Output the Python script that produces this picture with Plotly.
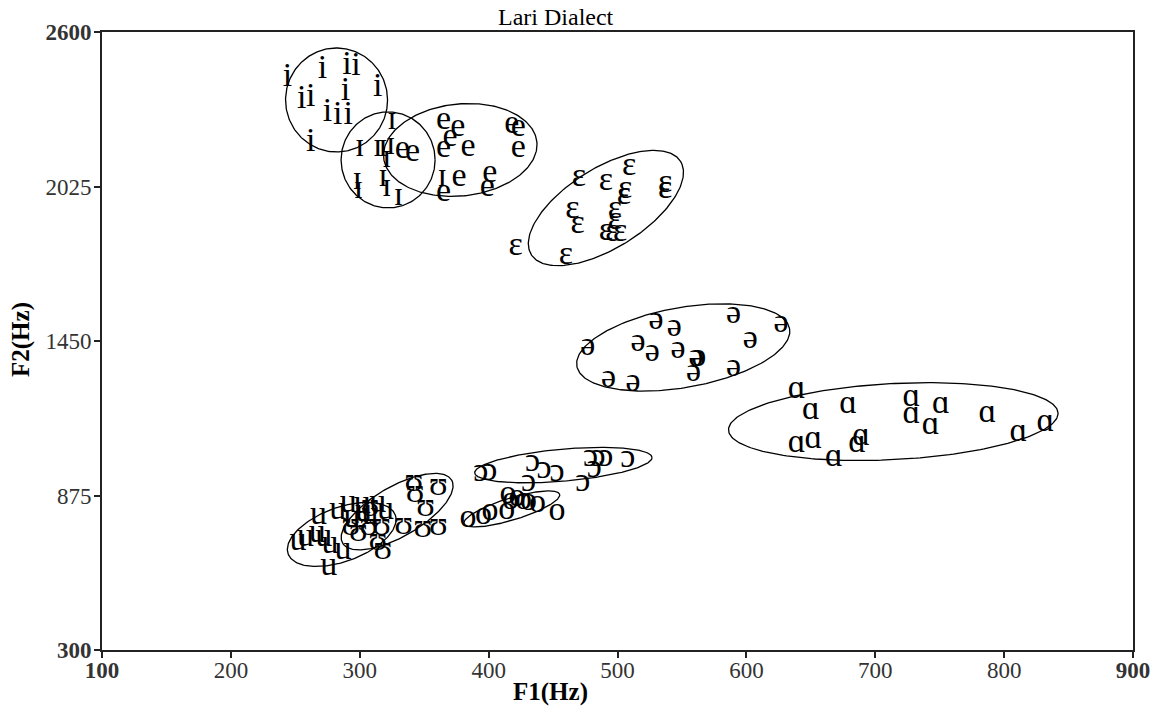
import numpy as np
import plotly.graph_objects as go

# ---------------- data (F1, F2 in Hz) ----------------
i_f1 = [244, 271, 290, 297, 314, 255, 262, 289, 275, 283, 291, 262]
i_f2 = [2432, 2459, 2477, 2470, 2395, 2347, 2358, 2377, 2299, 2291, 2291, 2187]

I_f1 = [300, 314, 318, 324, 325, 321, 298, 299, 318, 321, 330, 364]
I_f2 = [2172, 2172, 2172, 2179, 2272, 2131, 2049, 2012, 2060, 2023, 1986, 2060]

e_f1 = [365, 376, 370, 384, 365, 341, 333, 418, 423, 423, 377, 401, 399, 365]
e_f2 = [2272, 2243, 2209, 2172, 2168, 2153, 2161, 2254, 2243, 2168, 2060, 2075, 2023, 2001]

E_f1 = [470, 491, 509, 506, 505, 537, 537, 465, 469, 498, 498, 491, 496, 502, 421, 460]
E_f2 = [2060, 2042, 2098, 2012, 1993, 2038, 2012, 1938, 1882, 1938, 1900, 1856, 1852, 1852, 1800, 1770]

schwa_f1 = [477, 493, 512, 530, 544, 516, 527, 547, 561, 563, 559, 590, 603, 590, 627]
schwa_f2 = [1428, 1312, 1297, 1528, 1502, 1443, 1409, 1417, 1387, 1390, 1331, 1547, 1454, 1350, 1517]

a_f1 = [639, 650, 679, 728, 728, 751, 743, 787, 639, 652, 689, 686, 668, 811, 832]
a_f2 = [1268, 1193, 1212, 1238, 1175, 1212, 1137, 1182, 1067, 1082, 1093, 1067, 1015, 1108, 1145]

O_f1 = [394, 401, 434, 443, 453, 479, 485, 491, 508, 482, 473, 431]
O_f2 = [959, 966, 996, 970, 959, 1018, 1018, 1015, 1011, 977, 922, 925]

o_f1 = [384, 396, 401, 414, 417, 422, 427, 431, 438, 453, 415]
o_f2 = [791, 802, 814, 821, 858, 866, 858, 851, 847, 814, 877]

U_f1 = [342, 361, 343, 351, 334, 349, 361, 317, 293, 299, 307, 308, 314, 318]
U_f2 = [925, 907, 884, 832, 765, 754, 758, 758, 758, 739, 758, 832, 702, 672]

u_f1 = [268, 283, 291, 302, 314, 320, 252, 258, 267, 272, 277, 287, 276, 303, 308, 294]
u_f2 = [802, 821, 847, 840, 847, 821, 702, 717, 735, 717, 691, 672, 609, 810, 802, 791]

vowel_labels = ["i", "ɪ", "e", "ɛ", "ə", "ɑ", "ɔ", "o", "ʊ", "u"]
vowel_f1 = [i_f1, I_f1, e_f1, E_f1, schwa_f1, a_f1, O_f1, o_f1, U_f1, u_f1]
vowel_f2 = [i_f2, I_f2, e_f2, E_f2, schwa_f2, a_f2, O_f2, o_f2, U_f2, u_f2]

# ellipse centres (Hz)
ell_cf1 = [282, 322, 378, 491, 551, 714, 458, 418, 329, 286]
ell_cf2 = [2347, 2124, 2161, 1945, 1426, 1150, 988, 825, 815, 730]

x_ticks = [100, 200, 300, 400, 500, 600, 700, 800, 900]
y_ticks = [300, 875, 1450, 2025, 2600]

# ---------------- geometry / style ----------------
W, H = 1160, 713
ML, MR, MT, MB = 102, 27, 32, 63
X_RANGE = [100, 900]
Y_RANGE = [300, 2600]
# ellipse shape in screen pixels: semi-major, semi-minor, angle (deg)
ell_a = [51, 47, 77, 88, 108, 165, 89, 50, 63, 57]
ell_b = [52, 48, 46, 40, 40, 38, 16, 11, 25, 27]
ell_ang = [0, 0, 6, 32, 10, 3, 5, 17, 30, 20]

pw = W - ML - MR
ph = H - MT - MB
px_x = pw / (X_RANGE[1] - X_RANGE[0])
px_y = ph / (Y_RANGE[1] - Y_RANGE[0])

SERIF = "Liberation Serif, Times New Roman, DejaVu Serif, serif"

fig = go.Figure()

t = np.linspace(0, 2 * np.pi, 240)
for cx, cy, a, b, ang in zip(ell_cf1, ell_cf2, ell_a, ell_b, ell_ang):
    th = np.deg2rad(ang)
    dx = a * np.cos(t) * np.cos(th) - b * np.sin(t) * np.sin(th)
    dy = a * np.cos(t) * np.sin(th) + b * np.sin(t) * np.cos(th)
    fig.add_trace(go.Scatter(x=cx + dx / px_x, y=cy + dy / px_y, mode="lines",
                             line=dict(color="black", width=1.3),
                             hoverinfo="skip", showlegend=False))

for lab, xs, ys in zip(vowel_labels, vowel_f1, vowel_f2):
    fig.add_trace(go.Scatter(x=xs, y=ys, mode="text", text=[lab] * len(xs),
                             textposition="middle center",
                             textfont=dict(family=SERIF, size=34, color="black"),
                             showlegend=False, name=lab))

def tt(v, ends):
    return f"<b>{v}</b>" if v in ends else str(v)

fig.update_xaxes(range=X_RANGE, tickvals=x_ticks,
                 ticktext=[tt(v, (100, 900)) for v in x_ticks],
                 showgrid=False, zeroline=False, showline=True, mirror=True,
                 linecolor="#222", linewidth=2, ticks="outside", ticklen=6,
                 tickcolor="#222", tickwidth=2, ticklabelstandoff=-8,
                 tickfont=dict(family=SERIF, size=23, color="#333"))
fig.update_yaxes(range=Y_RANGE, tickvals=y_ticks,
                 ticktext=[tt(v, (300, 2600)) for v in y_ticks],
                 showgrid=False, zeroline=False, showline=True, mirror=True,
                 linecolor="#222", linewidth=2, ticks="outside", ticklen=6,
                 tickcolor="#222", tickwidth=2, ticklabelstandoff=-2,
                 tickfont=dict(family=SERIF, size=23, color="#333"))

def px2paper(x, y):
    return (x - ML) / pw, (H - MB - y) / ph

tx, ty = px2paper(556, 17)
fig.add_annotation(text="Lari Dialect", x=tx, y=ty, xref="paper", yref="paper",
                   showarrow=False, xanchor="center", yanchor="middle",
                   font=dict(family=SERIF, size=24, color="black"))
ax_, ay_ = px2paper(550, 692)
fig.add_annotation(text="<b>F1(Hz)</b>", x=ax_, y=ay_, xref="paper", yref="paper",
                   showarrow=False, xanchor="center", yanchor="middle",
                   font=dict(family=SERIF, size=25, color="black"))
bx_, by_ = px2paper(21, 340)
fig.add_annotation(text="<b>F2(Hz)</b>", x=bx_, y=by_, xref="paper", yref="paper",
                   showarrow=False, xanchor="center", yanchor="middle", textangle=-90,
                   font=dict(family=SERIF, size=25, color="black"))

fig.update_layout(width=W, height=H, paper_bgcolor="white", plot_bgcolor="white",
                  margin=dict(l=ML, r=MR, t=MT, b=MB, autoexpand=False),
                  showlegend=False)

fig.write_html("out.html", config={"displayModeBar": False},
               post_script="document.body.style.margin='0';document.body.style.padding='0';")
